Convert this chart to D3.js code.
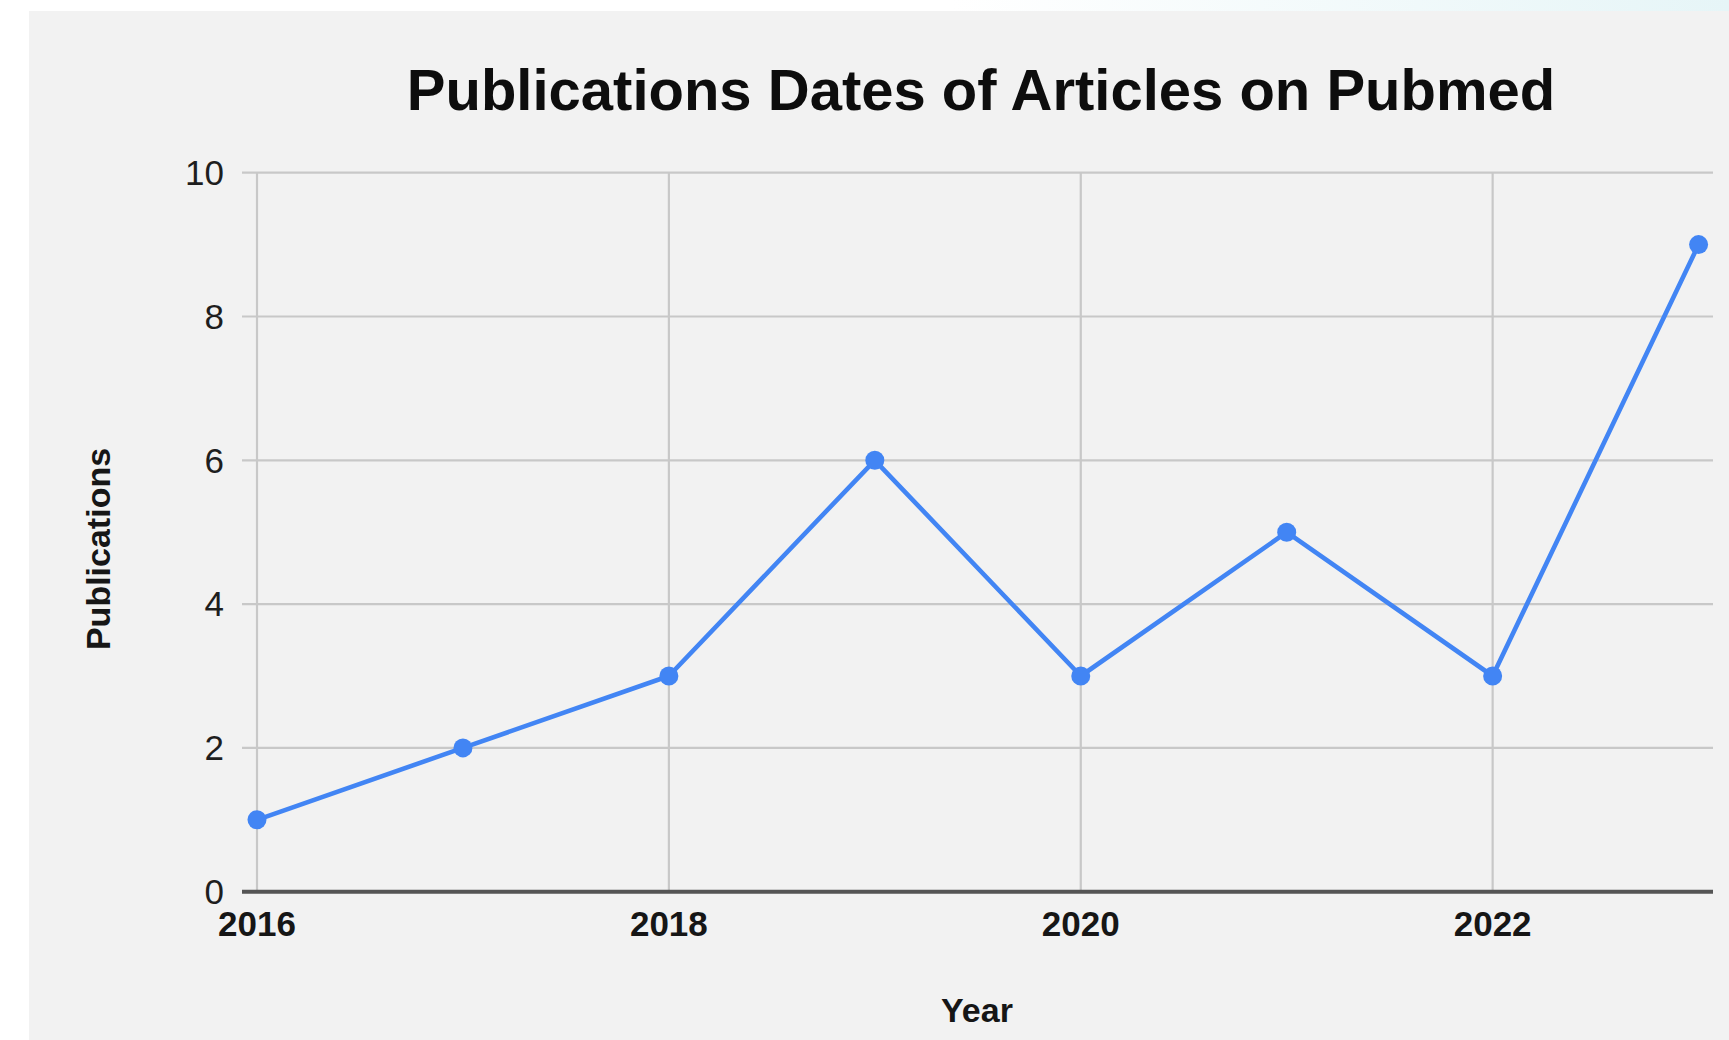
<!DOCTYPE html>
<html>
<head>
<meta charset="utf-8">
<script src="https://cdn.jsdelivr.net/npm/d3@7"></script>
<style>
  html, body { margin: 0; padding: 0; background: #ffffff; }
  svg { display: block; }
  text { font-family: "Liberation Sans", Arial, sans-serif; }
</style>
</head>
<body>
<svg id="chart" width="1729" height="1040"></svg>
<script>
const years = [2016, 2017, 2018, 2019, 2020, 2021, 2022, 2023];
const publications = [1, 2, 3, 6, 3, 5, 3, 9];
const yTicks = [0, 2, 4, 6, 8, 10];
const xTicks = [2016, 2018, 2020, 2022];
const titleText = "Publications Dates of Articles on Pubmed";
const xTitle = "Year";
const yTitle = "Publications";

(function () {
const W = 1729, H = 1040;
const svg = d3.select("#chart");

// top-right faint gradient strip above the panel
const defs = svg.append("defs");
const grad = defs.append("linearGradient").attr("id", "topgrad")
  .attr("x1", "0").attr("x2", "1").attr("y1", "0").attr("y2", "0");
grad.append("stop").attr("offset", "0.55").attr("stop-color", "#ffffff");
grad.append("stop").attr("offset", "1").attr("stop-color", "#e6f5f7");
svg.append("rect").attr("x", 0).attr("y", 0).attr("width", W).attr("height", 12)
  .attr("fill", "url(#topgrad)");

// panel
svg.append("rect").attr("x", 29).attr("y", 11).attr("width", W - 29).attr("height", H - 11)
  .attr("fill", "#f2f2f2");

const pLeft = 257, pRight = 1713, pTop = 172.7, pBottom = 891.7;
const x = d3.scaleLinear().domain([2016, 2023.07]).range([pLeft, pRight]);
const y = d3.scaleLinear().domain([0, 10]).range([pBottom, pTop]);

// horizontal gridlines (with tick extension to the left)
svg.append("g").selectAll("line").data(yTicks.filter(d => d !== 0)).join("line")
  .attr("x1", pLeft - 15).attr("x2", pRight)
  .attr("y1", d => y(d)).attr("y2", d => y(d))
  .attr("stroke", "#c8c8c8").attr("stroke-width", 2.2);

// vertical gridlines
svg.append("g").selectAll("line").data(xTicks).join("line")
  .attr("x1", d => x(d)).attr("x2", d => x(d))
  .attr("y1", pTop).attr("y2", pBottom)
  .attr("stroke", "#c8c8c8").attr("stroke-width", 2.2);

// baseline
svg.append("line").attr("x1", pLeft - 15).attr("x2", pRight)
  .attr("y1", y(0)).attr("y2", y(0))
  .attr("stroke", "#555555").attr("stroke-width", 4);

// y tick labels
svg.append("g").selectAll("text").data(yTicks).join("text")
  .attr("x", 224).attr("y", d => y(d)).attr("dy", "0.35em")
  .attr("text-anchor", "end")
  .attr("font-size", 35).attr("fill", "#1e1e1e")
  .text(d => d);

// x tick labels
svg.append("g").selectAll("text").data(xTicks).join("text")
  .attr("x", d => x(d)).attr("y", 936)
  .attr("text-anchor", "middle")
  .attr("font-size", 35).attr("font-weight", "bold").attr("fill", "#161616")
  .text(d => d);

// line
const data = years.map((yr, i) => ({ yr, v: publications[i] }));
svg.append("path").datum(data)
  .attr("fill", "none").attr("stroke", "#4285f4").attr("stroke-width", 4.6)
  .attr("stroke-linejoin", "round")
  .attr("d", d3.line().x(d => x(d.yr)).y(d => y(d.v)));

svg.append("g").selectAll("circle").data(data).join("circle")
  .attr("cx", d => x(d.yr)).attr("cy", d => y(d.v)).attr("r", 9.5)
  .attr("fill", "#4285f4");

// title
svg.append("text").attr("x", 981).attr("y", 110)
  .attr("text-anchor", "middle").attr("font-size", 58).attr("font-weight", "bold")
  .attr("fill", "#0d0d0d").text(titleText);

// x axis title
svg.append("text").attr("x", 977).attr("y", 1022)
  .attr("text-anchor", "middle").attr("font-size", 34).attr("font-weight", "bold")
  .attr("fill", "#161616").text(xTitle);

// y axis title
svg.append("text").attr("transform", "translate(110,549) rotate(-90)")
  .attr("text-anchor", "middle").attr("font-size", 34).attr("font-weight", "bold")
  .attr("fill", "#161616").text(yTitle);
})();
</script>
</body>
</html>
